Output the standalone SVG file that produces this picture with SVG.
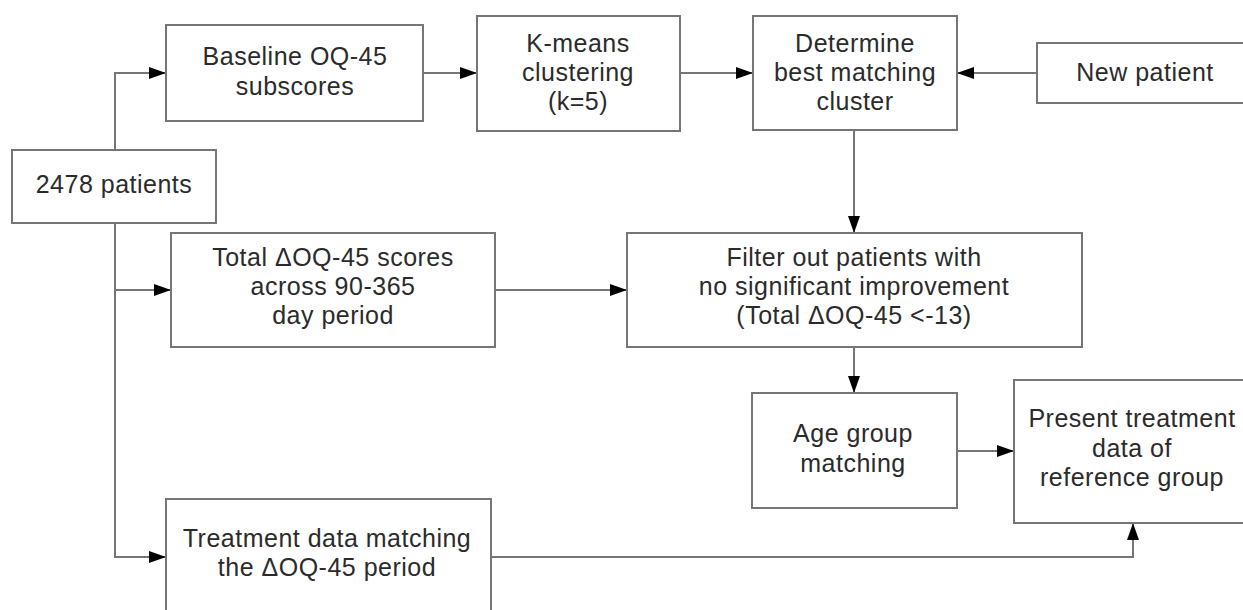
<svg xmlns="http://www.w3.org/2000/svg" width="1243" height="610" viewBox="0 0 1243 610">
  <style>
    .box { fill: #ffffff; stroke: #767676; stroke-width: 2; }
    .lbl { font-family: "Liberation Sans", Arial, sans-serif; font-size: 25px; letter-spacing: 0.5px; fill: #2b2b2b; text-anchor: middle; }
    .wire { fill: none; stroke: #767676; stroke-width: 2; }
    .arrow { marker-end: url(#head); }
  </style>
  <defs>
    <marker id="head" markerWidth="17" markerHeight="12" refX="17" refY="6" orient="auto" markerUnits="userSpaceOnUse">
      <path d="M0,0 L17,6 L0,12 Z" fill="#000000"/>
    </marker>
  </defs>
  <rect x="0" y="0" width="1243" height="610" fill="#ffffff"/>

  <!-- connectors -->
  <g id="connectors">
    <path class="wire arrow" d="M115,150 L115,73 L166,73"/>
    <path class="wire arrow" d="M115,223 L115,290 L171,290"/>
    <path class="wire arrow" d="M115,290 L115,557 L166,557"/>
    <path class="wire arrow" d="M423,73 L477,73"/>
    <path class="wire arrow" d="M680,73 L753,73"/>
    <path class="wire arrow" d="M1037,73 L957,73"/>
    <path class="wire arrow" d="M854,130 L854,233"/>
    <path class="wire arrow" d="M495,290 L627,290"/>
    <path class="wire arrow" d="M854,347 L854,393"/>
    <path class="wire arrow" d="M957,451 L1014,451"/>
    <path class="wire arrow" d="M491,557 L1133,557 L1133,523"/>
  </g>

  <g id="patients">
    <rect class="box" x="12" y="150" width="204" height="73"/>
    <text class="lbl" x="114" y="193">2478 patients</text>
  </g>

  <g id="baseline">
    <rect class="box" x="166" y="25" width="257" height="96"/>
    <text class="lbl" x="295" y="65">Baseline OQ-45<tspan x="295" dy="30">subscores</tspan></text>
  </g>

  <g id="kmeans">
    <rect class="box" x="477" y="16" width="203" height="115"/>
    <text class="lbl" x="578" y="52">K-means<tspan x="578" dy="29">clustering</tspan><tspan x="578" dy="29">(k=5)</tspan></text>
  </g>

  <g id="determine">
    <rect class="box" x="753" y="16" width="204" height="114"/>
    <text class="lbl" x="855" y="52">Determine<tspan x="855" dy="29">best matching</tspan><tspan x="855" dy="29">cluster</tspan></text>
  </g>

  <g id="new-patient">
    <rect class="box" x="1037" y="43" width="216" height="60"/>
    <text class="lbl" x="1145" y="81">New patient</text>
  </g>

  <g id="total-delta">
    <rect class="box" x="171" y="233" width="324" height="114"/>
    <text class="lbl" x="333" y="266">Total ΔOQ-45 scores<tspan x="333" dy="29">across 90-365</tspan><tspan x="333" dy="29">day period</tspan></text>
  </g>

  <g id="filter">
    <rect class="box" x="627" y="233" width="455" height="114"/>
    <text class="lbl" x="854" y="266">Filter out patients with<tspan x="854" dy="29">no significant improvement</tspan><tspan x="854" dy="29">(Total ΔOQ-45 &lt;-13)</tspan></text>
  </g>

  <g id="age-group">
    <rect class="box" x="752" y="393" width="205" height="115"/>
    <text class="lbl" x="853" y="442">Age group<tspan x="853" dy="30">matching</tspan></text>
  </g>

  <g id="present">
    <rect class="box" x="1014" y="380" width="236" height="143"/>
    <text class="lbl" x="1132" y="427">Present treatment<tspan x="1132" dy="30">data of</tspan><tspan x="1132" dy="29">reference group</tspan></text>
  </g>

  <g id="treatment">
    <rect class="box" x="166" y="499" width="325" height="120"/>
    <text class="lbl" x="327" y="547">Treatment data matching<tspan x="327" dy="29">the ΔOQ-45 period</tspan></text>
  </g>
</svg>
